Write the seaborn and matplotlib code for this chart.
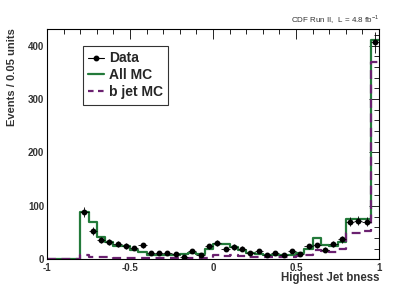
import matplotlib.pyplot as plt
import numpy as np
import pandas as pd
import seaborn as sns
from matplotlib.ticker import MultipleLocator

# 40 bins of 0.05 from -1 to 1; centers listed left to right
centers = np.round(np.arange(-0.975, 1.0, 0.05), 3)

data_counts = [0, 0, 0, 0,
               89, 53, 36, 33, 29, 25, 21, 26, 12, 12, 12, 9, 4, 16,
               7, 24, 30, 19, 23, 20, 11, 15, 8, 11, 7, 16, 10, 24,
               26, 18, 28, 37, 70, 72, 70, 406]
all_mc = [0, 0, 0, 0,
          89, 69, 41, 33, 25, 24, 17, 14, 8, 8, 8, 8, 9, 11,
          10, 20, 29, 29, 22, 17, 12, 10, 8, 8, 8, 8, 12, 20,
          39, 27, 24, 33, 75, 75, 75, 411]
bjet_mc = [0, 0, 0, 0,
           8, 5, 4, 4, 3, 3, 3, 3, 3, 3, 3, 3, 3, 3,
           3, 3, 7, 6, 7, 6, 5, 5, 5, 5, 5, 5, 6, 8,
           17, 15, 13, 19, 49, 50, 52, 370]

df = pd.DataFrame({"bness": centers, "data": data_counts,
                   "allmc": all_mc, "bmc": bjet_mc})
pts = df[df["data"] > 0]

sns.set_style("white")
plt.rcParams["font.family"] = ["Liberation Sans", "DejaVu Sans"]
plt.rcParams["mathtext.fontset"] = "custom"
plt.rcParams["mathtext.rm"] = "Liberation Sans"

green = "#237a3a"
purple = "#6b2170"

fig = plt.figure(figsize=(3.99, 2.89), dpi=100)
ax = fig.add_axes([0.118, 0.103, 0.832, 0.798])

sns.histplot(data=df, x="bness", weights="allmc", binwidth=0.05,
             binrange=(-1.0, 1.0), element="step", fill=False,
             color=green, linewidth=1.6, ax=ax)
sns.histplot(data=df, x="bness", weights="bmc", binwidth=0.05,
             binrange=(-1.0, 1.0), element="step", fill=False,
             color=purple, linewidth=1.6, linestyle=(0, (4, 2.5)), ax=ax)
ax.errorbar(pts["bness"], pts["data"], yerr=np.sqrt(pts["data"]), xerr=0.025,
            fmt="o", color="black", markersize=3.2, elinewidth=0.6, capsize=0)

ax.set_xlim(-1, 1)
ax.set_ylim(0, 432)
ax.xaxis.set_major_locator(MultipleLocator(0.5))
ax.xaxis.set_minor_locator(MultipleLocator(0.1))
ax.yaxis.set_major_locator(MultipleLocator(100))
ax.yaxis.set_minor_locator(MultipleLocator(20))
ax.set_xticks([-1, -0.5, 0, 0.5, 1])
ax.set_xticklabels(["-1", "-0.5", "0", "0.5", "1"])
ax.tick_params(which="both", direction="in", top=True, right=True,
               labelsize=7, colors="black", width=0.6)
ax.tick_params(axis="x", pad=2.5)
ax.tick_params(axis="y", pad=2)
ax.tick_params(which="major", length=7)
ax.tick_params(which="minor", length=3.5)
for lab in ax.get_xticklabels() + ax.get_yticklabels():
    lab.set_fontweight("bold")
    lab.set_color("#333333")
for s in ax.spines.values():
    s.set_linewidth(0.8)
    s.set_color("black")

ax.set_xlabel("Highest Jet bness", fontsize=8.3, fontweight="bold", color="#333333")
ax.xaxis.set_label_coords(1.0, -0.081)
ax.xaxis.label.set_ha("right")
ax.xaxis.label.set_va("center")
ax.set_ylabel("Events / 0.05 units", fontsize=8, fontweight="bold", color="#333333")
ax.yaxis.set_label_coords(-0.12, 1.0)
ax.yaxis.label.set_va("top")
ax.yaxis.label.set_ha("right")

fig.text(0.95, 0.931, r"CDF Run II,  L = 4.8 fb$^{-1}$", fontsize=5.8, ha="right",
         va="center", color="#333333")

handles = [
    plt.Line2D([], [], color="black", marker="o", markersize=3.2, linewidth=0.8),
    plt.Line2D([], [], color=green, linewidth=1.6),
    plt.Line2D([], [], color=purple, linewidth=1.6, linestyle=(0, (2.5, 2))),
]
leg = ax.legend(handles, ["Data", "All MC", "b jet MC"], loc="upper left",
                bbox_to_anchor=(0.108, 0.925), borderaxespad=0, frameon=True,
                fancybox=False, edgecolor="black",
                prop={"weight": "bold", "size": 10},
                handlelength=1.1, handletextpad=0.35, borderpad=0.4,
                labelspacing=0.2)
leg.get_frame().set_linewidth(0.8)

fig.savefig("out.png", dpi=100)
